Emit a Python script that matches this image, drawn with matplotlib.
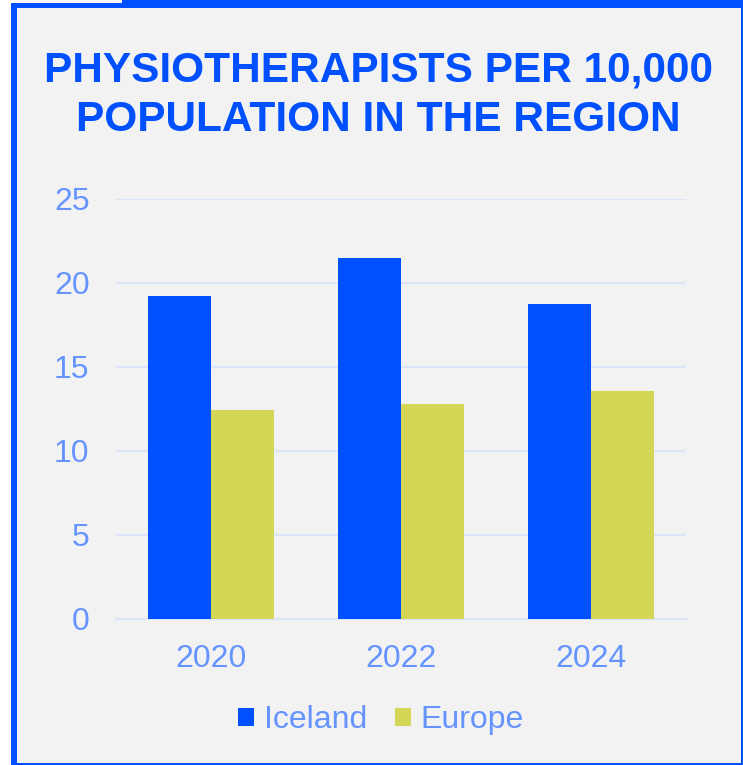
import matplotlib
matplotlib.use("Agg")
import matplotlib.pyplot as plt
import numpy as np
from matplotlib.patches import Rectangle

years = ["2020", "2022", "2024"]
iceland = [19.2, 21.5, 18.75]
europe = [12.45, 12.8, 13.6]
series_names = ["Iceland", "Europe"]
yticks = [0, 5, 10, 15, 20, 25]

BLUE = "#0050FF"
YELLOW = "#D4D755"
TICK = "#6694FF"
GRID = "#DBE5F8"
BG = "#F2F2F2"

plt.rcParams['font.family'] = ['Liberation Sans', 'DejaVu Sans']

W, H = 743, 765
fig = plt.figure(figsize=(W / 100, H / 100), dpi=100)
fig.patch.set_facecolor("white")

def px(x0, y0, x1, y1, color):
    # rectangle in pixel coords (top-left origin)
    fig.add_artist(Rectangle((x0 / W, 1 - y1 / H), (x1 - x0) / W, (y1 - y0) / H,
                             transform=fig.transFigure, facecolor=color,
                             edgecolor="none", zorder=0))

# frame
px(11, 3, 743, 765, BLUE)
px(122, 0, 743, 8, BLUE)
px(17, 8, 741, 763, BG)

ax = fig.add_axes([116 / W, (H - 619) / H, (686 - 116) / W, (619 - 199) / H])
ax.set_facecolor("none")

x = np.arange(len(years))
w = 0.33
ax.bar(x - w / 2, iceland, width=w, color=BLUE, label=series_names[0], zorder=3)
ax.bar(x + w / 2, europe, width=w, color=YELLOW, label=series_names[1], zorder=3)

ax.set_xlim(-0.5, 2.5)
ax.set_ylim(0, 25)
ax.set_yticks(yticks)
ax.set_xticks(x)
ax.set_xticklabels(years)
for s in ax.spines.values():
    s.set_visible(False)
ax.grid(axis="y", color=GRID, linewidth=1.6, zorder=1)
ax.set_axisbelow(True)
ax.tick_params(axis="both", length=0, labelsize=23, labelcolor=TICK)
ax.tick_params(axis="y", pad=19)
ax.tick_params(axis="x", pad=18)
ax.yaxis.get_gridlines()[0].set_clip_on(False)

fig.text(378 / W, 1 - 82 / H, "PHYSIOTHERAPISTS PER 10,000", ha="center", va="baseline",
         fontsize=30.5, fontweight="bold", color=BLUE)
fig.text(378 / W, 1 - 131 / H, "POPULATION IN THE REGION", ha="center", va="baseline",
         fontsize=30.5, fontweight="bold", color=BLUE)

leg = fig.legend(loc="center", bbox_to_anchor=(381 / W, 1 - 720 / H), ncol=2, frameon=False,
                 fontsize=23, handlelength=0.5, handleheight=0.5, handletextpad=0.32,
                 columnspacing=0.85)
for t in leg.get_texts():
    t.set_color(TICK)

fig.savefig("out.png", dpi=100, facecolor="white")
